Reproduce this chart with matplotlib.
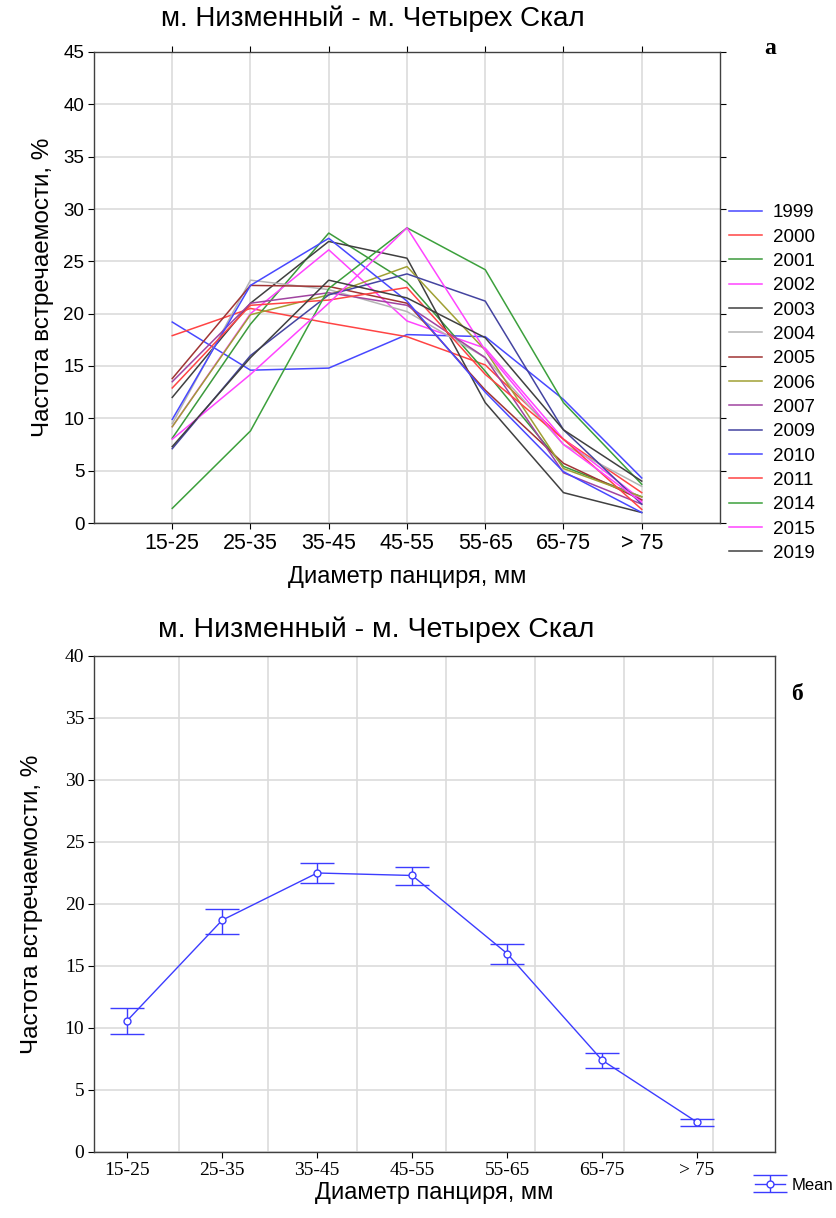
import matplotlib
matplotlib.use("Agg")
import matplotlib.pyplot as plt
import numpy as np

categories = ["15-25", "25-35", "35-45", "45-55", "55-65", "65-75", "> 75"]
years = ["1999", "2000", "2001", "2002", "2003", "2004", "2005", "2006",
         "2007", "2009", "2010", "2011", "2014", "2015", "2019"]

y1999 = [19.2, 14.6, 14.8, 18.0, 17.8, 11.8, 4.3]
y2000 = [17.9, 20.5, 19.1, 17.8, 15.1, 8.0, 2.9]
y2001 = [8.1, 19.0, 27.7, 23.0, 14.5, 5.4, 2.5]
y2002 = [9.2, 20.0, 26.1, 19.3, 16.7, 8.0, 2.2]
y2003 = [12.0, 21.0, 26.9, 25.3, 11.5, 2.9, 1.0]
y2004 = [9.5, 23.2, 22.3, 20.2, 15.8, 7.5, 3.5]
y2005 = [13.8, 22.7, 22.6, 21.0, 12.7, 5.7, 2.2]
y2006 = [9.2, 19.9, 21.8, 24.5, 16.5, 5.2, 2.5]
y2007 = [13.5, 21.0, 22.0, 20.8, 15.8, 4.8, 1.8]
y2009 = [7.1, 16.0, 21.8, 23.8, 21.2, 8.9, 1.8]
y2010 = [9.9, 22.7, 27.2, 21.2, 12.5, 4.9, 1.0]
y2011 = [12.9, 20.8, 21.3, 22.5, 14.2, 8.0, 1.3]
y2014 = [1.4, 8.8, 22.4, 28.2, 24.2, 11.5, 3.7]
y2015 = [8.0, 14.2, 21.0, 28.2, 16.5, 7.5, 2.0]
y2019 = [7.3, 15.8, 23.2, 21.5, 17.7, 8.9, 4.0]

series = [y1999, y2000, y2001, y2002, y2003, y2004, y2005, y2006,
          y2007, y2009, y2010, y2011, y2014, y2015, y2019]
colors = ["#4848ff", "#ff4444", "#3c9a3c", "#ff44ff", "#404040", "#b4b4b4",
          "#a03434", "#a0a034", "#a044a0", "#4444a0", "#4848ff", "#ff4444",
          "#3ca03c", "#ff44ff", "#404040"]

mean_vals = [10.6, 18.7, 22.5, 22.3, 16.0, 7.4, 2.4]
upper_vals = [11.6, 19.6, 23.3, 23.0, 16.8, 8.0, 2.7]
lower_vals = [9.5, 17.6, 21.7, 21.5, 15.2, 6.8, 2.1]

title = "м. Низменный - м. Четырех Скал"
ylab = "Частота встречаемости, %"
xlab = "Диаметр панциря, мм"

sans = ["Liberation Sans", "DejaVu Sans"]
serif = ["Liberation Serif", "DejaVu Serif"]

W, H = 837, 1218
fig = plt.figure(figsize=(W / 100, H / 100), dpi=100)

def box(l, t, r, b):
    return [l / W, 1 - b / H, (r - l) / W, (b - t) / H]

grid_c = "#dcdcdc"

# ---------- top chart ----------
ax1 = fig.add_axes(box(94, 52, 720, 523))
x = np.arange(len(categories))
for yr, s, c in zip(years, series, colors):
    ax1.plot(x, s, color=c, lw=1.1, label=yr)
ax1.set_xlim(-1, 7)
ax1.set_ylim(0, 45)
ax1.set_xticks(x)
ax1.set_xticklabels(categories, family=sans, fontsize=15.5)
ax1.set_yticks(np.arange(0, 46, 5))
ax1.set_yticklabels([str(v) for v in range(0, 46, 5)], family=sans, fontsize=13.5)
ax1.grid(True, color=grid_c, lw=1.2)
ax1.set_axisbelow(True)
ax1.tick_params(direction="out", length=4, top=True, right=True, pad=3)
for sp in ax1.spines.values():
    sp.set_color("#404040")
    sp.set_linewidth(1.0)
ax1.set_title(title, family=sans, fontsize=20, pad=19, x=0.446)
ax1.set_ylabel(ylab, family=sans, fontsize=17.5)
ax1.yaxis.set_label_coords(-0.064, 0.5)
ax1.set_xlabel(xlab, family=sans, fontsize=17)
ax1.xaxis.set_label_coords(0.5, -0.091)
leg1 = ax1.legend(loc="upper left", bbox_to_anchor=(1.003, 0.693), frameon=False,
                  prop={"family": sans, "size": 13.5}, handlelength=1.75,
                  handletextpad=0.55, labelspacing=0.385, borderaxespad=0.0)
fig.text(770 / W, 1 - 48 / H, "а", family=serif, fontsize=17, fontweight="bold",
         ha="center", va="center")

# ---------- bottom chart ----------
ax2 = fig.add_axes(box(94, 656, 775, 1152))
yerr = [np.array(mean_vals) - np.array(lower_vals),
        np.array(upper_vals) - np.array(mean_vals)]
ax2.errorbar(x, mean_vals, yerr=yerr, color="#3c3cff", lw=1.0, marker="o",
             markersize=5, markerfacecolor="white", markeredgecolor="#3c3cff",
             capsize=12.5, capthick=1.0, elinewidth=1.0, label="Mean")
ax2.set_xlim(-0.35, 6.82)
ax2.set_ylim(0, 40)
ax2.set_xticks(x)
ax2.set_xticklabels(categories, family=serif, fontsize=14)
ax2.set_yticks(np.arange(0, 41, 5))
ax2.set_yticklabels([str(v) for v in range(0, 41, 5)], family=serif, fontsize=14)
ax2.set_xticks(np.linspace(0.54, 6.17, 7), minor=True)
ax2.grid(False)
ax2.grid(True, which="minor", axis="x", color=grid_c, lw=1.2)
ax2.grid(True, which="major", axis="y", color=grid_c, lw=1.2)
ax2.set_axisbelow(True)
ax2.tick_params(which="major", direction="out", length=4, pad=3)
ax2.tick_params(which="minor", length=0)
for sp in ax2.spines.values():
    sp.set_color("#404040")
    sp.set_linewidth(1.0)
ax2.set_title(title, family=sans, fontsize=20.5, pad=14, x=0.415)
ax2.set_ylabel(ylab, family=sans, fontsize=17.5)
ax2.yaxis.set_label_coords(-0.075, 0.5)
ax2.set_xlabel(xlab, family=sans, fontsize=17)
ax2.xaxis.set_label_coords(0.5, -0.060)
fig.legend(handles=ax2.get_legend_handles_labels()[0], labels=["Mean"],
           loc="center left", bbox_to_anchor=(752 / W, 1 - 1185 / H), frameon=False,
           prop={"family": sans, "size": 12}, handlelength=1.8, handletextpad=0.4,
           borderpad=0.2, borderaxespad=0.0)
fig.text(797 / W, 1 - 695 / H, "б", family=serif, fontsize=17, fontweight="bold",
         ha="center", va="center")

fig.savefig("out.png", dpi=100, facecolor="white")
